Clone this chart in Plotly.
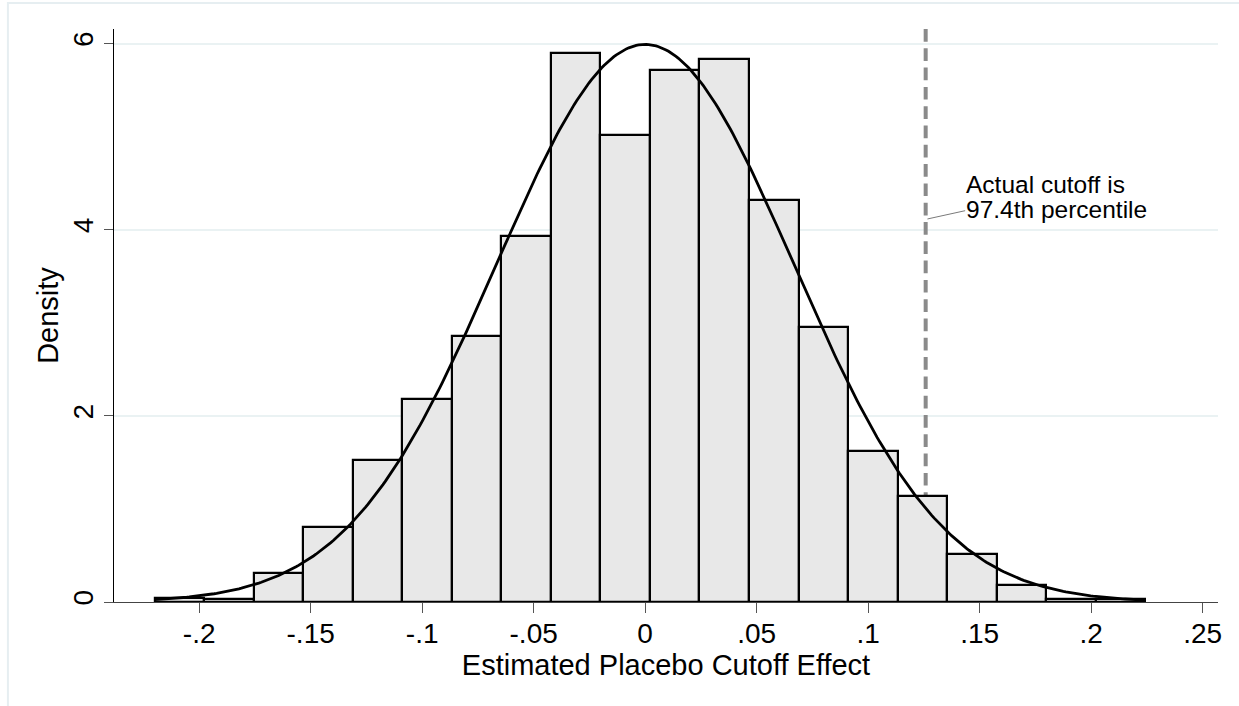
import numpy as np
import plotly.graph_objects as go

# ---- data ----
bin_start = -0.22002
bin_width = 0.022215
densities = [0.04, 0.03, 0.31, 0.81, 1.53, 2.18, 2.86, 3.93, 5.90, 5.02,
             5.72, 5.83, 4.32, 2.95, 1.62, 1.14, 0.52, 0.18, 0.03, 0.035]
normal_mean = 0.0
normal_sd = 0.0666
cutoff_value = 0.1258
x_tick_vals = [-0.2, -0.15, -0.1, -0.05, 0, 0.05, 0.1, 0.15, 0.2, 0.25]
x_tick_text = ["-.2", "-.15", "-.1", "-.05", "0", ".05", ".1", ".15", ".2", ".25"]
y_tick_vals = [0, 2, 4, 6]
y_tick_text = ["0", "2", "4", "6"]
note_lines = ["Actual cutoff is", "97.4th percentile"]

FONT = "Arial, Liberation Sans, Helvetica, sans-serif"

n = len(densities)
centers = [bin_start + bin_width * (i + 0.5) for i in range(n)]
x_lo = bin_start
x_hi = bin_start + bin_width * n
xs = np.linspace(x_lo, x_hi, 400)
ys = np.exp(-0.5 * ((xs - normal_mean) / normal_sd) ** 2) / (normal_sd * np.sqrt(2 * np.pi))

fig = go.Figure()
fig.add_trace(go.Bar(
    x=centers, y=densities, width=[bin_width] * n,
    marker=dict(color="#e8e8e8", line=dict(color="black", width=2.2)),
    showlegend=False, hoverinfo="skip",
))
fig.add_trace(go.Scatter(
    x=xs, y=ys, mode="lines",
    line=dict(color="black", width=2.8),
    showlegend=False, hoverinfo="skip",
))

x_range = [-0.2382, 0.2569]
y_range = [0, 6.156]

# cutoff dashed line (beneath the bars)
fig.add_shape(type="line", xref="x", yref="y",
              x0=cutoff_value, x1=cutoff_value, y0=y_range[1], y1=0,
              line=dict(color="#8a8a8a", width=4, dash="12.7px,6.6px"),
              layer="between")

# annotation text (two lines, tight spacing)
text_x = cutoff_value + 0.0177
fig.add_annotation(x=text_x, y=4.485, xref="x", yref="y", text=note_lines[0],
                   showarrow=False, xanchor="left", yanchor="middle",
                   font=dict(family=FONT, size=24.5, color="black"), borderpad=0)
fig.add_annotation(x=text_x, y=4.217, xref="x", yref="y", text=note_lines[1],
                   showarrow=False, xanchor="left", yanchor="middle",
                   font=dict(family=FONT, size=24.5, color="black"), borderpad=0)
fig.add_shape(type="line", xref="x", yref="y",
              x0=cutoff_value + 0.0008, y0=4.115, x1=text_x, y1=4.204,
              line=dict(color="#7a7a7a", width=1))

# outer graph-region frame
fig.add_shape(type="rect", xref="paper", yref="paper",
              x0=-0.0961, x1=1.2, y0=-0.3, y1=1.0454,
              line=dict(color="#e6eef1", width=2), fillcolor="rgba(0,0,0,0)",
              layer="below")

fig.update_layout(
    width=1239, height=706,
    margin=dict(l=114, r=21, t=29, b=104, autoexpand=False),
    paper_bgcolor="white", plot_bgcolor="white",
    font=dict(family=FONT, color="black"),
    bargap=0,
)
fig.update_xaxes(
    range=x_range, tickvals=x_tick_vals, ticktext=x_tick_text, automargin=False,
    showgrid=False, zeroline=False,
    showline=True, linecolor="#444444", linewidth=1,
    ticks="outside", ticklen=10, tickwidth=1.3, tickcolor="#555555",
    tickfont=dict(family=FONT, size=28, color="black"), ticklabelstandoff=-4,
    title=dict(text="Estimated Placebo Cutoff Effect",
               font=dict(family=FONT, size=29, color="black"), standoff=0),
)
fig.update_yaxes(
    range=y_range, tickvals=y_tick_vals, ticktext=y_tick_text, tickangle=-90,
    automargin=False,
    showgrid=True, gridcolor="#eaf2f3", gridwidth=1.5, zeroline=False,
    showline=True, linecolor="black", linewidth=1,
    ticks="outside", ticklen=9, tickwidth=1.3, tickcolor="#555555",
    tickfont=dict(family=FONT, size=28, color="black"),
    title=dict(text="Density", font=dict(family=FONT, size=29, color="black"), standoff=0),
)

fig.write_html(
    "out.html",
    config={"displayModeBar": False},
    post_script="document.body.style.margin='0';document.body.style.overflow='hidden';",
)
